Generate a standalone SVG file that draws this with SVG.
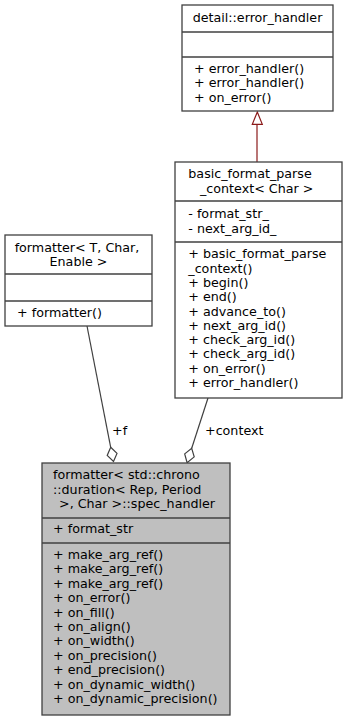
<svg xmlns="http://www.w3.org/2000/svg" width="344" height="721" viewBox="0 0 344 721">
  <style>
    .box { fill: #ffffff; stroke: #404040; stroke-width: 1.3; }
    .main { fill: #bfbfbf; stroke: #404040; stroke-width: 1.3; }
    .sep { stroke: #404040; stroke-width: 1.3; fill: none; }
    text { font-family: "DejaVu Sans", "Liberation Sans", sans-serif; font-size: 12.7px; fill: #000000; }
    .c { text-anchor: middle; }
    .use { stroke: #404040; stroke-width: 1.2; fill: none; }
    .dia { stroke: #404040; stroke-width: 1.2; fill: #ffffff; }
    .inh { stroke: #8b1a1a; stroke-width: 1.2; fill: none; }
    .tri { stroke: #8b1a1a; stroke-width: 1.2; fill: #ffffff; }
  </style>

  <!-- relations -->
  <g id="edges">
    <!-- public inheritance: basic_format_parse_context -> detail::error_handler -->
    <line class="inh" x1="257" y1="162" x2="257" y2="124.3"/>
    <polygon class="tri" points="257.3,112 262.3,124.3 252.3,124.3"/>
    <!-- usage: formatter -> spec_handler (+f) -->
    <line class="use" x1="87" y1="326" x2="110.7" y2="447.3"/>
    <polygon class="dia" points="110.7,447.3 117,453.4 113.5,461.5 107.2,455.4"/>
    <text x="112" y="435">+f</text>
    <!-- usage: basic_format_parse_context -> spec_handler (+context) -->
    <line class="use" x1="208" y1="398" x2="191.7" y2="448.3"/>
    <polygon class="dia" points="191.7,448.3 194.2,456.9 187.1,462.6 184.7,453.9"/>
    <text x="205" y="435">+context</text>
  </g>

  <!-- detail::error_handler -->
  <g id="node_error_handler">
    <rect class="box" x="182" y="5" width="151" height="106"/>
    <line class="sep" x1="182" y1="32" x2="333" y2="32"/>
    <line class="sep" x1="182" y1="57" x2="333" y2="57"/>
    <text class="c" x="257.5" y="21.5">detail::error_handler</text>
    <text x="194" y="73">+ error_handler()</text>
    <text x="194" y="87.3">+ error_handler()</text>
    <text x="194" y="101.7">+ on_error()</text>
  </g>

  <!-- basic_format_parse_context< Char > -->
  <g id="node_basic_format_parse_context">
    <rect class="box" x="175" y="162" width="167" height="236"/>
    <line class="sep" x1="175" y1="201" x2="342" y2="201"/>
    <line class="sep" x1="175" y1="242" x2="342" y2="242"/>
    <text x="188.3" y="177.5">basic_format_parse</text>
    <text x="200" y="193">_context&lt; Char &gt;</text>
    <text x="188.3" y="218.3">- format_str_</text>
    <text x="188.3" y="233">- next_arg_id_</text>
    <text x="188.3" y="258.3">+ basic_format_parse</text>
    <text x="188.3" y="272.6">_context()</text>
    <text x="188.3" y="286.9">+ begin()</text>
    <text x="188.3" y="301.2">+ end()</text>
    <text x="188.3" y="315.5">+ advance_to()</text>
    <text x="188.3" y="329.8">+ next_arg_id()</text>
    <text x="188.3" y="344.1">+ check_arg_id()</text>
    <text x="188.3" y="358.4">+ check_arg_id()</text>
    <text x="188.3" y="372.7">+ on_error()</text>
    <text x="188.3" y="387">+ error_handler()</text>
  </g>

  <!-- formatter< T, Char, Enable > -->
  <g id="node_formatter">
    <rect class="box" x="5" y="235" width="147" height="91"/>
    <line class="sep" x1="5" y1="274" x2="152" y2="274"/>
    <line class="sep" x1="5" y1="301" x2="152" y2="301"/>
    <text class="c" x="77" y="252.3">formatter&lt; T, Char,</text>
    <text class="c" x="78.5" y="266">Enable &gt;</text>
    <text x="17" y="316.5">+ formatter()</text>
  </g>

  <!-- formatter< std::chrono::duration< Rep, Period >, Char >::spec_handler -->
  <g id="node_spec_handler">
    <rect class="main" x="42" y="463" width="188" height="252"/>
    <line class="sep" x1="42" y1="518" x2="230" y2="518"/>
    <line class="sep" x1="42" y1="543" x2="230" y2="543"/>
    <text x="53" y="479">formatter&lt; std::chrono</text>
    <text x="53" y="493.5">::duration&lt; Rep, Period</text>
    <text x="59" y="508">&gt;, Char &gt;::spec_handler</text>
    <text x="53" y="533">+ format_str</text>
    <text x="53" y="559">+ make_arg_ref()</text>
    <text x="53" y="573.4">+ make_arg_ref()</text>
    <text x="53" y="587.8">+ make_arg_ref()</text>
    <text x="53" y="602.2">+ on_error()</text>
    <text x="53" y="616.6">+ on_fill()</text>
    <text x="53" y="631">+ on_align()</text>
    <text x="53" y="645.4">+ on_width()</text>
    <text x="53" y="659.8">+ on_precision()</text>
    <text x="53" y="674.2">+ end_precision()</text>
    <text x="53" y="688.6">+ on_dynamic_width()</text>
    <text x="53" y="703">+ on_dynamic_precision()</text>
  </g>
</svg>
